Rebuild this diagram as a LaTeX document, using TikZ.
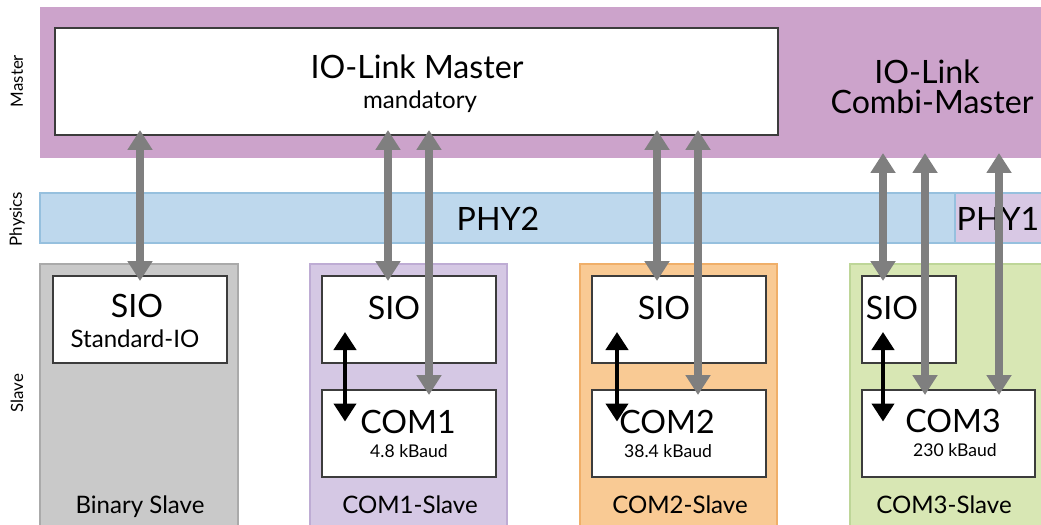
\documentclass[tikz,border=0pt]{standalone}
\usepackage{fontspec}
\setmainfont{Lato}
\usetikzlibrary{arrows.meta,fit}

\definecolor{masterband}{RGB}{204,163,203}
\definecolor{phyblue}{RGB}{190,216,237}
\definecolor{phyblueline}{RGB}{150,192,222}
\definecolor{phyone}{RGB}{216,200,228}
\definecolor{binfill}{RGB}{201,201,201}
\definecolor{binline}{RGB}{170,170,170}
\definecolor{comonefill}{RGB}{213,200,228}
\definecolor{comoneline}{RGB}{190,172,212}
\definecolor{comtwofill}{RGB}{249,202,148}
\definecolor{comtwoline}{RGB}{240,175,105}
\definecolor{comthreefill}{RGB}{216,231,180}
\definecolor{comthreeline}{RGB}{190,214,152}
\definecolor{linkgray}{RGB}{127,127,127}
\definecolor{boxline}{RGB}{60,60,60}

\tikzset{
  band/.style={inner sep=0pt, outer sep=0pt, draw=none},
  wbox/.style={inner sep=0pt, outer sep=0pt, fill=white, draw=boxline, line width=0.7pt},
  slavebox/.style={inner sep=0pt, outer sep=0pt, line width=1.2pt},
  bigtxt/.style={font=\fontsize{18.3}{21}\selectfont, inner sep=0pt, anchor=base},
  midtxt/.style={font=\fontsize{13.7}{16}\selectfont, inner sep=0pt, anchor=base},
  smalltxt/.style={font=\fontsize{10}{12}\selectfont, inner sep=0pt, anchor=base},
  sidetxt/.style={font=\fontsize{9.6}{11}\selectfont, inner sep=0pt, rotate=90},
  grayarrow/.style={draw=linkgray, line width=4.6pt,
    {Triangle[width=0.48cm,length=0.40cm]}-{Triangle[width=0.48cm,length=0.40cm]},
    shorten <=-0.1cm, shorten >=-0.1cm},
  blackarrow/.style={draw=black, line width=2.4pt,
    {Triangle[width=0.44cm,length=0.36cm]}-{Triangle[width=0.44cm,length=0.36cm]},
    shorten <=-0.62cm, shorten >=-0.63cm},
}

\begin{document}
\begin{tikzpicture}[x=0.02cm, y=-0.02cm]
\useasboundingbox (0,0) rectangle (1041,524);

% layer bands
\node[band, fill=masterband, fit={(40,7) (1045,158)}] (mband) {};
\node[band, fill=phyblue, draw=phyblueline, line width=0.6pt, fit={(40,193) (955,243)}] (phytwo) {};
\node[band, fill=phyone, draw=phyblueline, line width=0.6pt, fit={(955,193) (1045,243)}] (phyonebox) {};

% row labels
\node[sidetxt] (lmaster) at (17,81) {Master};
\node[sidetxt] (lphysics) at (17,219) {Physics};
\node[sidetxt] (lslave) at (17,393) {Slave};

% master
\node[wbox, fit={(55,28) (778,135)}] (master) {};
\node[bigtxt] (mtitle) at (417,78) {IO-Link Master};
\node[midtxt] (msub) at (420,108) {mandatory};
\node[bigtxt] (ctitle) at (927,83) {IO-Link};
\node[bigtxt] (ctitleb) at (932,113) {Combi-Master};

% physics labels
\node[bigtxt] (phytwolbl) at (498,230) {PHY2};
\node[bigtxt] (phyonelbl) at (998,230) {PHY1};

% slave devices
\node[slavebox, fill=binfill, draw=binline, fit={(40,264) (238,535)}] (binslave) {};
\node[slavebox, fill=comonefill, draw=comoneline, fit={(310,264) (507,535)}] (comoneslave) {};
\node[slavebox, fill=comtwofill, draw=comtwoline, fit={(580,264) (777,535)}] (comtwoslave) {};
\node[slavebox, fill=comthreefill, draw=comthreeline, fit={(850,264) (1050,535)}] (comthreeslave) {};

\node[wbox, fit={(53,276) (227,363)}] (sioa) {};
\node[wbox, fit={(322,276) (496,363)}] (siob) {};
\node[wbox, fit={(322,390) (496,477)}] (comone) {};
\node[wbox, fit={(592,276) (766,363)}] (sioc) {};
\node[wbox, fit={(592,390) (766,477)}] (comtwo) {};
\node[wbox, fit={(862,276) (956,363)}] (siod) {};
\node[wbox, fit={(862,390) (1035,477)}] (comthree) {};

% texts in the slave devices
\node[bigtxt] (tsioa) at (137,317) {SIO};
\node[midtxt] (tstd) at (135,347) {Standard-IO};
\node[bigtxt] (tsiob) at (394,319) {SIO};
\node[bigtxt] (tcomone) at (408,433) {COM1};
\node[smalltxt] (tbaudone) at (409,457) {4.8 kBaud};
\node[bigtxt] (tsioc) at (664,319) {SIO};
\node[bigtxt] (tcomtwo) at (667,433) {COM2};
\node[smalltxt] (tbaudtwo) at (668,457) {38.4 kBaud};
\node[bigtxt] (tsiod) at (892,319) {SIO};
\node[bigtxt] (tcomthree) at (953,432) {COM3};
\node[smalltxt] (tbaudthree) at (955,456) {230 kBaud};

\node[midtxt] (lbin) at (140,513) {Binary Slave};
\node[midtxt] (lcomone) at (410,513) {COM1-Slave};
\node[midtxt] (lcomtwo) at (680,513) {COM2-Slave};
\node[midtxt] (lcomthree) at (944,513) {COM3-Slave};

% x positions of the links
\coordinate (ga) at (140,0);
\coordinate (gb) at (388,0);
\coordinate (gc) at (429,0);
\coordinate (gd) at (657,0);
\coordinate (ge) at (698,0);
\coordinate (gf) at (883,0);
\coordinate (gg) at (925,0);
\coordinate (gh) at (999,0);
\coordinate (ka) at (345,0);
\coordinate (kb) at (617,0);
\coordinate (kc) at (883,0);

% master <-> slave links
\draw[grayarrow] (master.south -| ga) -- (sioa.north -| ga);
\draw[grayarrow] (master.south -| gb) -- (siob.north -| gb);
\draw[grayarrow] (master.south -| gc) -- (comone.north -| gc);
\draw[grayarrow] (master.south -| gd) -- (sioc.north -| gd);
\draw[grayarrow] (master.south -| ge) -- (comtwo.north -| ge);
\draw[grayarrow] (mband.south -| gf) -- (siod.north -| gf);
\draw[grayarrow] (mband.south -| gg) -- (comthree.north -| gg);
\draw[grayarrow] (mband.south -| gh) -- (comthree.north -| gh);

% mode switching inside the devices
\draw[blackarrow] (siob.south -| ka) -- (comone.north -| ka);
\draw[blackarrow] (sioc.south -| kb) -- (comtwo.north -| kb);
\draw[blackarrow] (siod.south -| kc) -- (comthree.north -| kc);
\end{tikzpicture}
\end{document}
